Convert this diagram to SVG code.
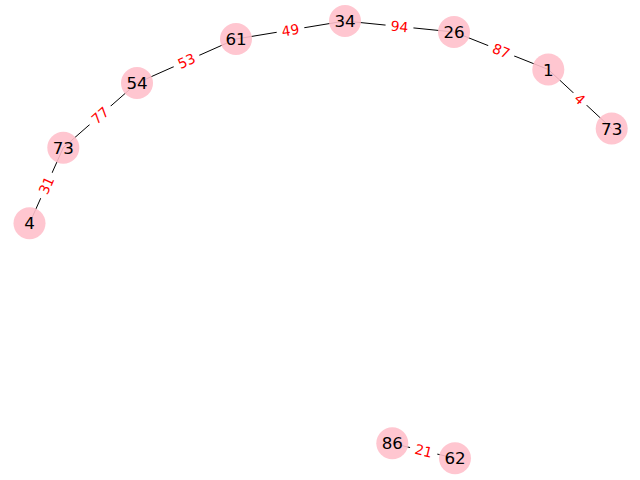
<svg xmlns="http://www.w3.org/2000/svg" width="640" height="480" viewBox="0 0 640 480">
<style>
.e{stroke:#000;stroke-width:1;fill:none}
.lb{fill:#fff}
.lt{font-family:"DejaVu Sans",sans-serif;font-size:13.9px;fill:#ff0000;text-anchor:middle}
.n{fill:#ffc0cb;fill-opacity:0.9}
.nt{font-family:"DejaVu Sans",sans-serif;font-size:16.7px;fill:#000;text-anchor:middle}
</style>
<rect width="640" height="480" fill="#fff"/>
<g id="connectors">
<line class="e" x1="29.5" y1="223.3" x2="63.3" y2="147.7"/>
<line class="e" x1="63.3" y1="147.7" x2="137" y2="83"/>
<line class="e" x1="137" y1="83" x2="236" y2="39"/>
<line class="e" x1="236" y1="39" x2="345" y2="21"/>
<line class="e" x1="345" y1="21" x2="454" y2="32"/>
<line class="e" x1="454" y1="32" x2="548.3" y2="69.5"/>
<line class="e" x1="548.3" y1="69.5" x2="611.7" y2="128.5"/>
<line class="e" x1="392.3" y1="443.3" x2="455" y2="458.3"/>
<g transform="translate(46.4,185.5) rotate(-65.9)"><rect class="lb" x="-14" y="-9" width="28" height="18" rx="3"/><text class="lt" y="5">31</text></g>
<g transform="translate(100.2,115.4) rotate(-41.3)"><rect class="lb" x="-14" y="-9" width="28" height="18" rx="3"/><text class="lt" y="5">77</text></g>
<g transform="translate(186.5,61) rotate(-24)"><rect class="lb" x="-14" y="-9" width="28" height="18" rx="3"/><text class="lt" y="5">53</text></g>
<g transform="translate(290.5,30) rotate(-9.4)"><rect class="lb" x="-14" y="-9" width="28" height="18" rx="3"/><text class="lt" y="5">49</text></g>
<g transform="translate(399.5,26.5) rotate(5.8)"><rect class="lb" x="-14" y="-9" width="28" height="18" rx="3"/><text class="lt" y="5">94</text></g>
<g transform="translate(501.2,50.8) rotate(21.7)"><rect class="lb" x="-14" y="-9" width="28" height="18" rx="3"/><text class="lt" y="5">87</text></g>
<g transform="translate(580,99) rotate(42.9)"><rect class="lb" x="-9" y="-9" width="18" height="18" rx="3"/><text class="lt" y="5">4</text></g>
<g transform="translate(423.7,450.8) rotate(13.5)"><rect class="lb" x="-14" y="-9" width="28" height="18" rx="3"/><text class="lt" y="5">21</text></g>
</g>
<g id="n4"><circle class="n" cx="29.5" cy="223.3" r="16"/><text class="nt" x="29.5" y="229.3">4</text></g>
<g id="n73a"><circle class="n" cx="63.3" cy="147.7" r="16"/><text class="nt" x="63.3" y="153.7">73</text></g>
<g id="n54"><circle class="n" cx="137" cy="83" r="16"/><text class="nt" x="137" y="89">54</text></g>
<g id="n61"><circle class="n" cx="236" cy="39" r="16"/><text class="nt" x="236" y="45">61</text></g>
<g id="n34"><circle class="n" cx="345" cy="21" r="16"/><text class="nt" x="345" y="27">34</text></g>
<g id="n26"><circle class="n" cx="454" cy="32" r="16"/><text class="nt" x="454" y="38">26</text></g>
<g id="n1"><circle class="n" cx="548.3" cy="69.5" r="16"/><text class="nt" x="548.3" y="75.5">1</text></g>
<g id="n73b"><circle class="n" cx="611.7" cy="128.5" r="16"/><text class="nt" x="611.7" y="134.5">73</text></g>
<g id="n86"><circle class="n" cx="392.3" cy="443.3" r="16"/><text class="nt" x="392.3" y="449.3">86</text></g>
<g id="n62"><circle class="n" cx="455" cy="458.3" r="16"/><text class="nt" x="455" y="464.3">62</text></g>
</svg>
